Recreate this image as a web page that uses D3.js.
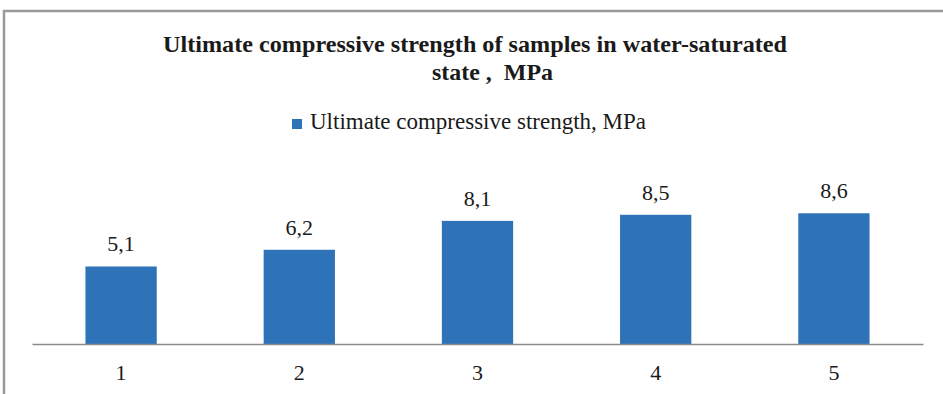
<!DOCTYPE html>
<html>
<head>
<meta charset="utf-8">
<script src="https://cdn.jsdelivr.net/npm/d3@7"></script>
<style>
  html, body { margin: 0; padding: 0; background: #fff; }
  svg { display: block; }
  text { font-family: "Liberation Serif", "Times New Roman", serif; fill: #1a1a1a; }
</style>
</head>
<body>
<svg id="chart" width="943" height="394"></svg>
<script>
// Samples and their ultimate compressive strength (MPa)
const categories = ["1", "2", "3", "4", "5"];
const strength = [5.1, 6.2, 8.1, 8.5, 8.6];
const titleLines = ["Ultimate compressive strength of samples in water-saturated", "state ,  MPa"];
const seriesName = "Ultimate compressive strength, MPa";

const svg = d3.select("#chart");
const W = 943, H = 394;
const barColor = "#2e72b7";

// frame around the chart area
svg.append("path")
  .attr("d", `M4,${H} L4,11 L${W},11`)
  .attr("fill", "none")
  .attr("stroke", "#9a9a9a")
  .attr("stroke-width", 2.5);

// title (two lines, bold)
svg.append("text")
  .attr("x", 163).attr("y", 52)
  .attr("font-size", 23).attr("font-weight", "bold")
  .attr("textLength", 624).attr("lengthAdjust", "spacingAndGlyphs")
  .text(titleLines[0]);
svg.append("text")
  .attr("x", 432).attr("y", 80)
  .attr("font-size", 23).attr("font-weight", "bold")
  .attr("xml:space", "preserve")
  .style("white-space", "pre")
  .attr("textLength", 121).attr("lengthAdjust", "spacingAndGlyphs")
  .text(titleLines[1]);

// legend
svg.append("rect")
  .attr("x", 292).attr("y", 119).attr("width", 10).attr("height", 10)
  .attr("fill", barColor);
svg.append("text")
  .attr("x", 310).attr("y", 129)
  .attr("font-size", 23)
  .text(seriesName);

// scales
const x = d3.scaleBand()
  .domain(categories)
  .range([32, 923])
  .paddingInner(0.6)
  .paddingOuter(0.3);

const y = d3.scaleLinear()
  .domain([0, 10])
  .range([344, 192]);

// bars
svg.append("g")
  .selectAll("rect")
  .data(strength)
  .join("rect")
  .attr("x", (d, i) => x(categories[i]))
  .attr("y", d => y(d))
  .attr("width", x.bandwidth())
  .attr("height", d => y(0) - y(d))
  .attr("fill", barColor);

// value labels (decimal comma)
svg.append("g")
  .selectAll("text")
  .data(strength)
  .join("text")
  .attr("x", (d, i) => x(categories[i]) + x.bandwidth() / 2)
  .attr("y", d => y(d) - 15)
  .attr("text-anchor", "middle")
  .attr("font-size", 22)
  .text(d => d.toFixed(1).replace(".", ","));

// category axis
const axis = svg.append("g")
  .attr("transform", `translate(0,${y(0)})`)
  .call(d3.axisBottom(x).tickSize(0).tickSizeOuter(0).tickPadding(0));
axis.select(".domain").attr("stroke", "#8c8c8c").attr("stroke-width", 1.5);
axis.selectAll(".tick text")
  .attr("y", 36).attr("dy", null)
  .attr("font-size", 22)
  .attr("font-family", "Liberation Serif, Times New Roman, serif")
  .attr("fill", "#1a1a1a");
</script>
</body>
</html>
